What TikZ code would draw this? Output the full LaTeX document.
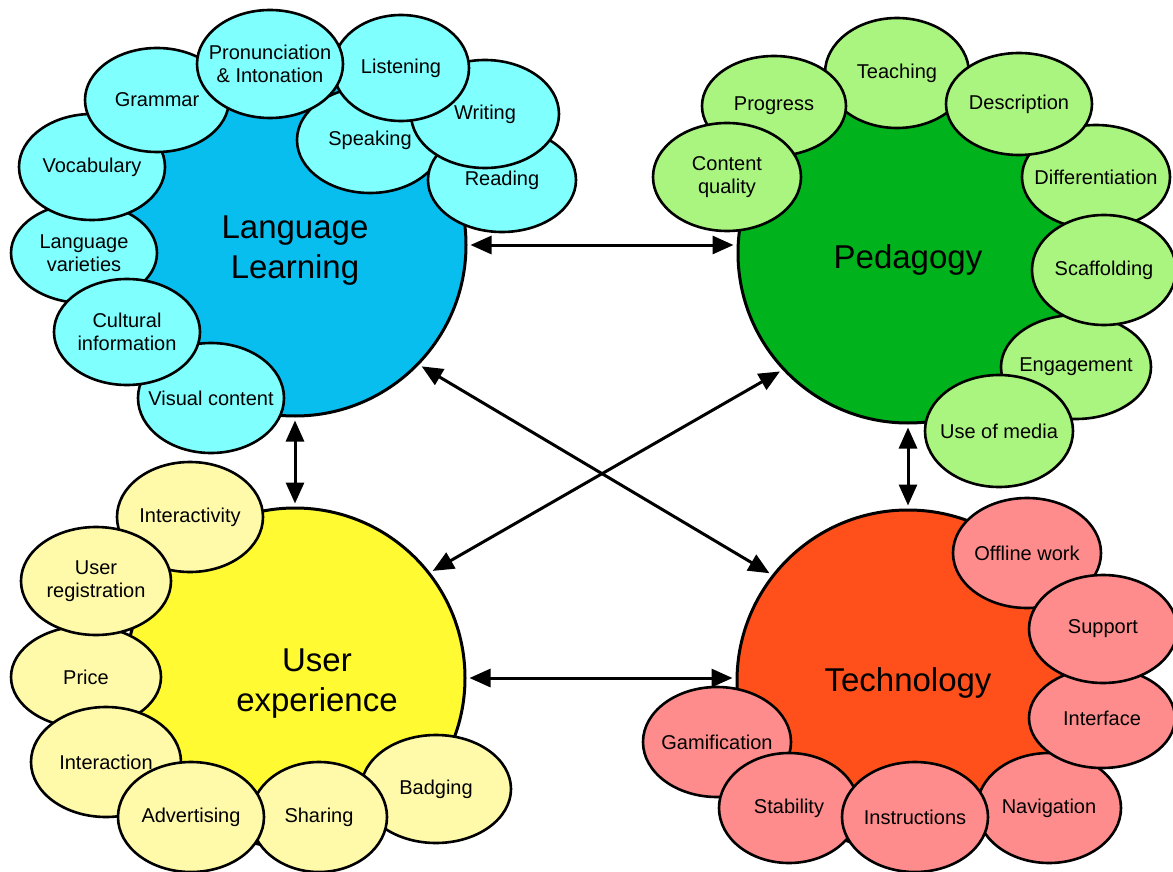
\documentclass[tikz,border=0pt]{standalone}
\usepackage{fontspec}
\setmainfont{Liberation Sans}
\usetikzlibrary{shapes.geometric,arrows.meta}

\definecolor{llmain}{RGB}{8,190,238}
\definecolor{llsub}{RGB}{128,255,255}
\definecolor{pedmain}{RGB}{0,178,28}
\definecolor{pedsub}{RGB}{170,245,128}
\definecolor{uxmain}{RGB}{255,250,50}
\definecolor{uxsub}{RGB}{255,250,170}
\definecolor{techmain}{RGB}{255,80,28}
\definecolor{techsub}{RGB}{255,140,140}

\tikzset{
  hub/.style={circle, draw=black, line width=3pt, minimum size=342pt, inner sep=0pt},
  hublabel/.style={align=center, font=\fontsize{33}{40}\selectfont},
  % negative x padding keeps the ellipse at its set size even for long words
  topic/.style={ellipse, draw=black, line width=2.6pt, inner xsep=-20pt, inner ysep=0pt,
    minimum width=146pt, minimum height=106pt, align=center,
    font=\fontsize{20}{23}\selectfont},
  link/.style={line width=3pt, {Triangle[length=21pt,width=18pt]}-{Triangle[length=21pt,width=18pt]},
    shorten <=3pt, shorten >=3pt},
}

\begin{document}
\begin{tikzpicture}[x=1pt,y=-1pt]
\useasboundingbox[fill=white] (0,0) rectangle (1173,872);

% four hub circles
\node[hub, fill=llmain,
  label={[hublabel, yshift=-6pt]center:Language\\Learning}] (ll) at (295,245) {};
\node[hub, fill=pedmain, minimum size=340pt,
  label={[hublabel, yshift=-7pt]center:Pedagogy}] (ped) at (908,253) {};
\node[hub, fill=uxmain, minimum size=340pt,
  label={[hublabel, xshift=22pt, yshift=-6pt]center:User\\experience}] (ux) at (295,678) {};
\node[hub, fill=techmain,
  label={[hublabel, yshift=-2pt]center:Technology}] (tech) at (908,681) {};

% language learning topics
\begin{scope}[every node/.style={topic, fill=llsub}]
\node[minimum height=100pt] (lvar) at (84,253) {Language\\varieties};
\node (vocab) at (92,167) {Vocabulary};
\node[minimum width=144pt, minimum height=104pt] (gram) at (157,100) {Grammar};
\node[minimum height=110pt] (vis) at (211,398) {Visual content};
\node (cult) at (127,332) {Cultural\\information};
\node (speak) at (370,140) {Speaking};
\node[minimum width=148pt, minimum height=104pt] (read) at (502,180) {Reading};
\node[minimum width=148pt, minimum height=108pt] (writ) at (485,114) {Writing};
\node[minimum width=136pt] (listen) at (401,68) {Listening};
\node[minimum height=108pt] (pron) at (270,64) {Pronunciation\\\& Intonation};
\end{scope}

% pedagogy topics
\begin{scope}[every node/.style={topic, fill=pedsub}]
\node[minimum width=144pt, minimum height=110pt] (teach) at (897,73) {Teaching};
\node[minimum width=144pt, minimum height=100pt] (prog) at (774,106) {Progress};
\node[minimum width=148pt, minimum height=108pt] (cq) at (727,177) {Content\\quality};
\node[minimum width=148pt, minimum height=104pt] (diff) at (1096,177) {Differentiation};
\node[minimum height=102pt] (desc) at (1019,104) {Description};
\node[minimum width=150pt, minimum height=104pt] (eng) at (1076,367) {Engagement};
\node[minimum width=144pt, minimum height=110pt] (scaf) at (1104,270) {Scaffolding};
\node[minimum width=148pt, minimum height=112pt] (media) at (999,431) {Use of media};
\end{scope}

% user experience topics
\begin{scope}[every node/.style={topic, fill=uxsub}]
\node[minimum height=110pt] (inter) at (190,517) {Interactivity};
\node[minimum width=150pt, minimum height=102pt] (price) at (86,677) {Price};
\node[minimum width=150pt, minimum height=108pt] (reg) at (96,581) {User\\registration};
\node[minimum width=150pt, minimum height=110pt] (intn) at (106,762) {Interaction};
\node[minimum width=150pt, minimum height=108pt] (badg) at (436,789) {Badging};
\node[minimum width=136pt, minimum height=110pt] (share) at (319,817) {Sharing};
\node[minimum height=110pt] (adv) at (191,817) {Advertising};
\end{scope}

% technology topics
\begin{scope}[every node/.style={topic, fill=techsub}]
\node[minimum width=148pt, minimum height=110pt] (off) at (1027,553) {Offline work};
\node[minimum width=144pt, minimum height=110pt] (nav) at (1049,808) {Navigation};
\node[minimum height=100pt] (intf) at (1102,718) {Interface};
\node[minimum width=148pt, minimum height=108pt] (supp) at (1103,629) {Support};
\node[minimum width=148pt, minimum height=110pt] (gam) at (717,742) {Gamification};
\node[minimum width=140pt, minimum height=110pt] (stab) at (789,808) {Stability};
\node[minimum height=110pt] (instr) at (915,817) {Instructions};
\end{scope}

% two-way links between the hubs
\draw[link] (ll.east) -- (ll.east -| ped.west);
\draw[link] (ux.east) -- (ux.east -| tech.west);
\draw[link] (ll.south) -- (ux.north);
\draw[link] (ped.south) -- (tech.north);
\draw[link] (ll.-44) -- (tech.142);
\draw[link] (ped.223) -- (ux.38);
\end{tikzpicture}
\end{document}
